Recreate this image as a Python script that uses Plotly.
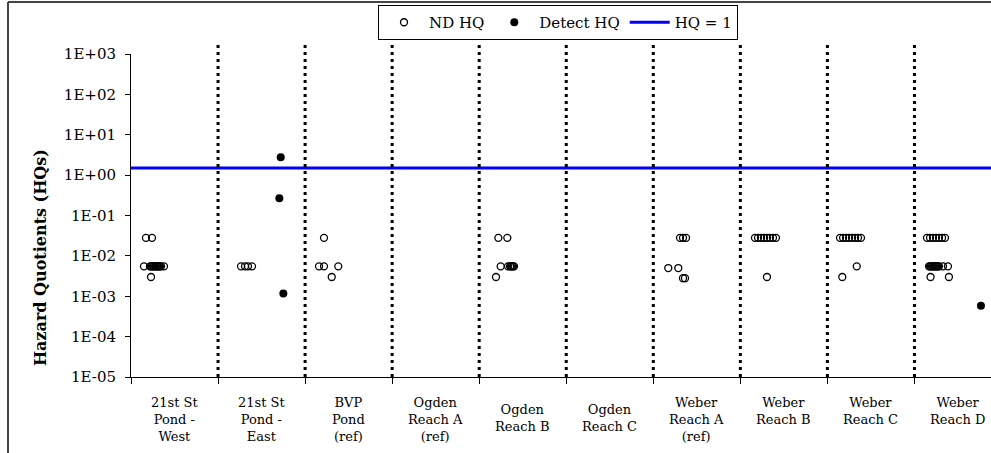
import plotly.graph_objects as go

# ---------------- data ----------------
categories = [
    "21st St<br>Pond -<br>West",
    "21st St<br>Pond -<br>East",
    "BVP<br>Pond<br>(ref)",
    "Ogden<br>Reach A<br>(ref)",
    "Ogden<br>Reach B",
    "Ogden<br>Reach C",
    "Weber<br>Reach A<br>(ref)",
    "Weber<br>Reach B",
    "Weber<br>Reach C",
    "Weber<br>Reach D",
]

# Non-detect hazard quotients (x = position on category scale, y = HQ)
nd_x = [
    0.172, 0.241,
    0.149, 0.218, 0.230, 0.241, 0.253, 0.264, 0.276, 0.287, 0.299, 0.310,
    0.322, 0.333, 0.345, 0.379,
    0.230,
    1.264, 1.310, 1.344, 1.390,
    2.217,
    2.160, 2.217, 2.381,
    2.306,
    4.220, 4.323,
    4.247, 4.331, 4.354, 4.365, 4.377, 4.389, 4.400,
    4.193,
    6.307, 6.341, 6.376,
    6.172, 6.287,
    6.341, 6.364,
    7.168, 7.203, 7.237, 7.272, 7.306, 7.340, 7.375, 7.409,
    7.306,
    8.145, 8.180, 8.214, 8.249, 8.283, 8.318, 8.352, 8.386,
    8.337,
    8.171,
    9.144, 9.179, 9.213, 9.248, 9.282, 9.317, 9.351,
    9.167, 9.179, 9.190, 9.202, 9.213, 9.225, 9.236, 9.248, 9.259, 9.271,
    9.282, 9.328, 9.385,
    9.185, 9.396,
]
nd_y = [
    0.028, 0.028,
    0.0055, 0.0055, 0.0055, 0.0055, 0.0055, 0.0055, 0.0055, 0.0055, 0.0055, 0.0055,
    0.0055, 0.0055, 0.0055, 0.0055,
    0.003,
    0.0055, 0.0055, 0.0055, 0.0055,
    0.028,
    0.0055, 0.0055, 0.0055,
    0.003,
    0.028, 0.028,
    0.0055, 0.0055, 0.0055, 0.0055, 0.0055, 0.0055, 0.0055,
    0.003,
    0.028, 0.028, 0.028,
    0.005, 0.005,
    0.0028, 0.0028,
    0.028, 0.028, 0.028, 0.028, 0.028, 0.028, 0.028, 0.028,
    0.003,
    0.028, 0.028, 0.028, 0.028, 0.028, 0.028, 0.028, 0.028,
    0.0055,
    0.003,
    0.028, 0.028, 0.028, 0.028, 0.028, 0.028, 0.028,
    0.0055, 0.0055, 0.0055, 0.0055, 0.0055, 0.0055, 0.0055, 0.0055, 0.0055, 0.0055,
    0.0055, 0.0055, 0.0055,
    0.003, 0.003,
]

# Detected hazard quotients
det_x = [1.720, 1.704, 1.750, 9.764]
det_y = [2.77, 0.268, 0.00117, 0.00058]

# Reference line
hq_ref = 1.5

y_tick_vals = [1e-5, 1e-4, 1e-3, 1e-2, 1e-1, 1e0, 1e1, 1e2, 1e3]
y_tick_text = ["1E-05", "1E-04", "1E-03", "1E-02", "1E-01",
               "1E+00", "1E+01", "1E+02", "1E+03"]

# ---------------- styling ----------------
FONT = "DejaVu Serif"
W, H = 991, 453
ML, MR, MT, MB = 131, 0, 54, 76
plot_w = W - ML - MR
plot_h = H - MT - MB
cat_px = 87.05
x_max = plot_w / cat_px
label_extra_shift = {"Ogden<br>Reach B": 7, "Ogden<br>Reach C": 7}

fig = go.Figure()

fig.add_trace(go.Scatter(
    x=nd_x, y=nd_y, mode="markers", name="ND HQ",
    marker=dict(symbol="circle-open", size=7, color="black",
                line=dict(width=1.3, color="black")),
))
fig.add_trace(go.Scatter(
    x=det_x, y=det_y, mode="markers", name="Detect HQ",
    marker=dict(symbol="circle", size=8, color="black"),
))
fig.add_trace(go.Scatter(
    x=[0, len(categories)], y=[hq_ref, hq_ref], mode="lines", name="HQ = 1",
    line=dict(color="#0000FF", width=3),
))

# dotted separators between categories
for k in range(1, len(categories)):
    fig.add_shape(type="line", xref="x", yref="paper", x0=k, x1=k,
                  y0=0, y1=1 + 12 / plot_h,
                  line=dict(color="black", width=3, dash="3px,4px"))

# category labels
for i, lab in enumerate(categories):
    fig.add_annotation(x=i + 0.5, y=0, xref="x", yref="paper",
                       text=lab, showarrow=False, yanchor="top",
                       yshift=-16 - label_extra_shift.get(lab, 0),
                       font=dict(family=FONT, size=13, color="black"),
                       align="center")

# y-axis title
fig.add_annotation(x=(40 - ML) / plot_w, y=(H - MB - 258) / plot_h,
                   xref="paper", yref="paper", xanchor="center", yanchor="middle",
                   text="<b>Hazard Quotients (HQs)</b>",
                   textangle=-90, showarrow=False,
                   font=dict(family=FONT, size=16, color="black"))

# outer chart frame (left & top)
fx = (8 - ML) / plot_w
fy = 1 + (MT - 2) / plot_h
fig.add_shape(type="line", xref="paper", yref="paper", x0=fx, x1=fx,
              y0=-1, y1=fy, line=dict(color="#444444", width=2))
fig.add_shape(type="line", xref="paper", yref="paper", x0=fx, x1=1.2,
              y0=fy, y1=fy, line=dict(color="#444444", width=2))

fig.update_layout(
    width=W, height=H,
    margin=dict(l=ML, r=MR, t=MT, b=MB, autoexpand=False),
    plot_bgcolor="white", paper_bgcolor="white",
    font=dict(family=FONT, color="black"),
    showlegend=True,
    legend=dict(orientation="h", x=(558 - ML) / plot_w, xanchor="center",
                y=1 + (MT - 5) / plot_h, yanchor="top",
                bordercolor="black", borderwidth=1,
                font=dict(family=FONT, size=15, color="black"),
                itemwidth=40, bgcolor="white"),
    xaxis=dict(range=[0, x_max], showgrid=False, zeroline=False,
               showline=True, linecolor="black", linewidth=1,
               tickvals=[], showticklabels=False,
               minor=dict(tickvals=list(range(len(categories))),
                          ticks="outside", ticklen=6, tickcolor="black")),
    yaxis=dict(type="log", range=[-5, 3], showgrid=False, zeroline=False,
               showline=True, linecolor="black", linewidth=1,
               tickvals=y_tick_vals, ticktext=y_tick_text,
               ticks="outside", ticklen=5, tickcolor="black",
               ticklabelstandoff=6,
               tickfont=dict(family=FONT, size=15, color="black")),
)

fig.write_html("out.html",
               config={"displayModeBar": False},
               post_script="document.body.style.margin='0';document.body.style.overflow='hidden';")
